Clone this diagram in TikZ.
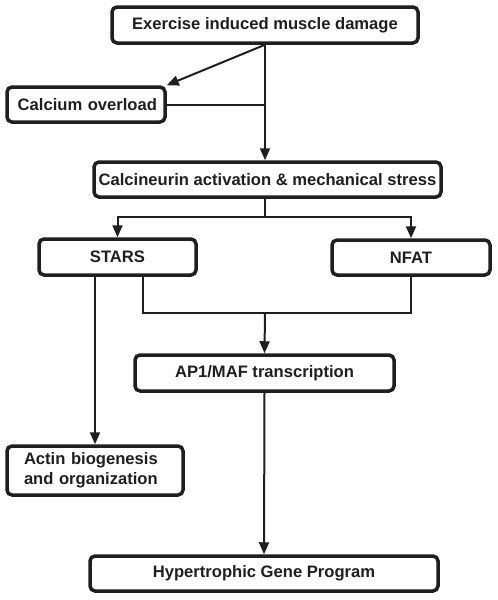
\documentclass[tikz,border=0pt]{standalone}
\usepackage{fontspec}
\setmainfont{Liberation Sans}
\usetikzlibrary{arrows.meta}

\begin{document}
\begin{tikzpicture}[x = 1pt, y = -1pt]
      \tikzset{BoxStyle/.style = {draw = black!88, text = black!88, fill = white, line width = 3.5pt,
        rounded corners = 5pt, inner sep = 0pt, font = \bfseries\fontsize{16.6}{20}\selectfont}}
      \tikzset{LineStyle/.style = {line width = 2pt, draw = black!88}}
      \tikzset{EdgeStyle/.style = {LineStyle, -{Triangle[length = 12pt, width = 10pt]}}}
      \useasboundingbox (0,0) rectangle (498,600);
      \node[BoxStyle, minimum width = 306pt, minimum height = 36pt] (damage) at (265,25)
        {Exercise induced muscle damage};
      \node[BoxStyle, minimum height = 35pt, inner xsep = 8pt, text width = 142pt, align = right]
        (calcium) at (86,104.5) {Calcium overload};
      \node[BoxStyle, minimum width = 347pt, minimum height = 35pt] (calcineurin) at (267.5,179.5)
        {Calcineurin activation \& mechanical stress};
      \node[BoxStyle, minimum width = 157pt, minimum height = 36pt] (stars) at (117.5,257) {STARS};
      \node[BoxStyle, minimum width = 158pt, minimum height = 35pt] (nfat) at (411,257.5) {NFAT};
      \node[BoxStyle, minimum width = 259pt, minimum height = 36pt] (ap1) at (264.5,373)
        {AP1/MAF transcription};
      \node[BoxStyle, minimum height = 49pt, inner xsep = 17pt, text width = 142pt, align = left]
        (actin) at (95,470.5) {Actin biogenesis\\and organization};
      \node[BoxStyle, minimum width = 348pt, minimum height = 35pt] (hypertrophy) at (264,573.5)
        {Hypertrophic Gene Program};
      \coordinate (split) at (265,217);
      \coordinate (merge) at (265,313);
      \draw[EdgeStyle] (damage.south) -- (calcium.north east);
      \draw[EdgeStyle] (damage.south) -- (damage.south |- calcineurin.north);
      \draw[LineStyle] (calcium.east) -- (calcium.east -| damage.south);
      \draw[LineStyle] (calcineurin.south -| split) -- (split);
      \draw[EdgeStyle] (split) -| (stars.north);
      \draw[EdgeStyle] (split) -| (nfat.north);
      \draw[LineStyle] ([xshift = 25pt]stars.south) |- (merge) -| (nfat.south);
      \draw[EdgeStyle] (merge) -- (ap1.north);
      \draw[EdgeStyle] (actin.north |- stars.south) -- (actin.north);
      \draw[EdgeStyle] (ap1.south) -- (hypertrophy.north);
\end{tikzpicture}
\end{document}
